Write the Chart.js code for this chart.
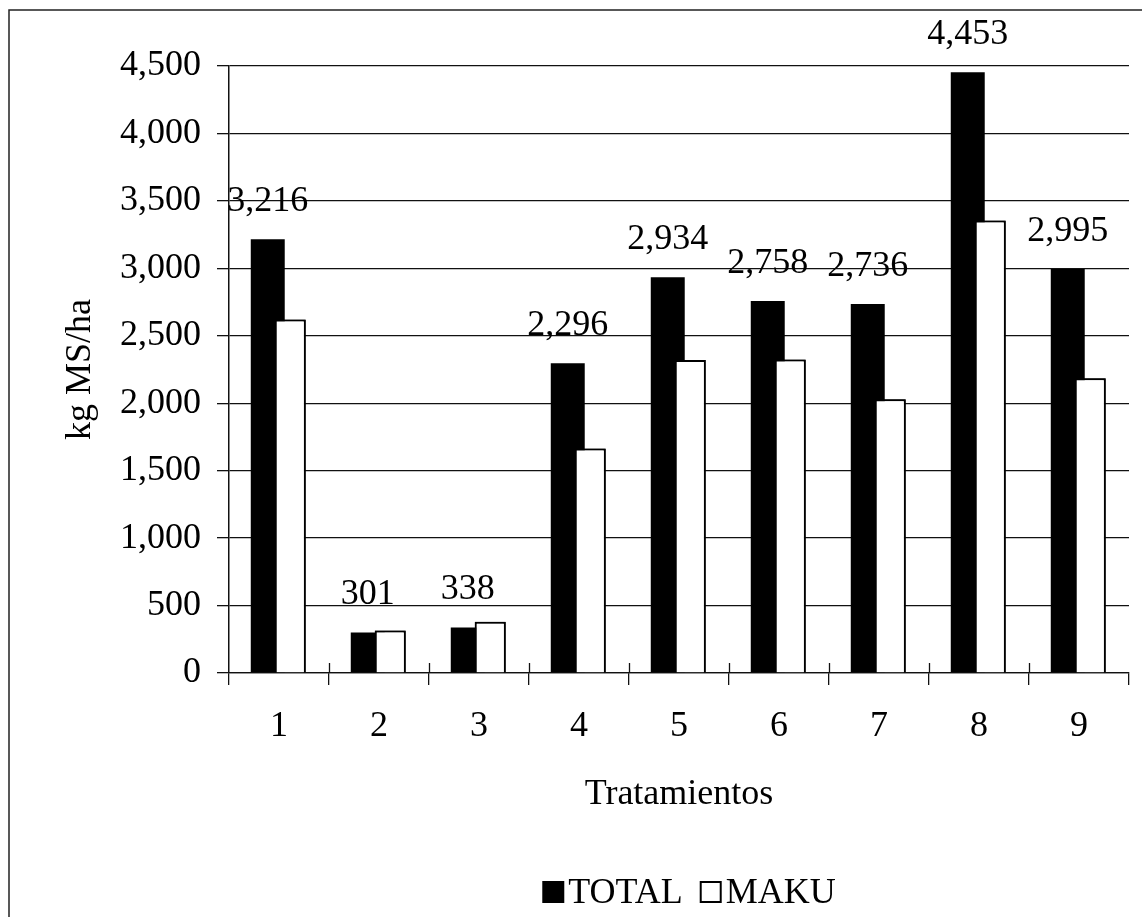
<!DOCTYPE html>
<html>
<head>
<meta charset="utf-8">
<script src="https://cdn.jsdelivr.net/npm/chart.js@4.4.1/dist/chart.umd.min.js"></script>
<style>
  html, body { margin: 0; padding: 0; background: #fff; }
  #wrap { position: relative; width: 1142px; height: 917px; }
</style>
</head>
<body>
<div id="wrap"><canvas id="chart"></canvas></div>
<script>
// Treatments on the x axis
const categories = ['1', '2', '3', '4', '5', '6', '7', '8', '9'];
// Dry-matter yield per treatment (kg MS/ha)
const totalValues = [3216, 301, 338, 2296, 2934, 2758, 2736, 4453, 2995];
const makuValues  = [2620, 315, 380, 1665, 2320, 2325, 2030, 3355, 2185];
// Value axis ticks
const yTicks = [0, 500, 1000, 1500, 2000, 2500, 3000, 3500, 4000, 4500];
const seriesNames = ['TOTAL', 'MAKU'];
const xTitle = 'Tratamientos';
const yTitle = 'kg MS/ha';

const SERIF = "'Liberation Serif', 'Times New Roman', serif";
const FONT_SIZE = 36;
const INK = '#111';
const fmt = v => v.toLocaleString('en-US');

Chart.defaults.font.family = SERIF;
Chart.defaults.color = '#000';

// Outer frame of the figure (left and top rules)
const framePlugin = {
  id: 'frame',
  beforeDraw(chart) {
    const ctx = chart.ctx;
    ctx.save();
    ctx.strokeStyle = '#222';
    ctx.lineWidth = 1.5;
    ctx.beginPath();
    ctx.moveTo(9, chart.height);
    ctx.lineTo(9, 10);
    ctx.lineTo(chart.width, 10);
    ctx.stroke();
    ctx.restore();
  }
};

// Category tick marks crossing the x axis line
const crossTicksPlugin = {
  id: 'crossTicks',
  afterDraw(chart) {
    const xs = chart.scales.x;
    const ctx = chart.ctx;
    const n = xs.ticks.length;
    const step = xs.width / n;
    ctx.save();
    ctx.strokeStyle = INK;
    ctx.lineWidth = 1.3;
    ctx.beginPath();
    for (let i = 1; i < n; i++) {
      const x = Math.round(xs.left + i * step) + 0.5;
      ctx.moveTo(x, xs.top - 10);
      ctx.lineTo(x, xs.top);
    }
    ctx.stroke();
    ctx.restore();
  }
};

// MAKU bars sit in front of TOTAL; values printed above TOTAL bars
const valueLabelsPlugin = {
  id: 'valueLabels',
  afterDatasetsDraw(chart) {
    const makuMeta = chart.getDatasetMeta(1);
    if (!makuMeta.hidden) makuMeta.controller.draw();
    const meta = chart.getDatasetMeta(0);
    if (meta.hidden) return;
    const ctx = chart.ctx;
    ctx.save();
    ctx.font = FONT_SIZE + 'px ' + SERIF;
    ctx.fillStyle = '#000';
    ctx.textAlign = 'center';
    ctx.textBaseline = 'alphabetic';
    meta.data.forEach((bar, i) => {
      ctx.fillText(fmt(totalValues[i]), bar.x, bar.y - 28);
    });
    ctx.restore();
  }
};

// Compact legend row: swatch, then series name, under the plot
const legendRowPlugin = {
  id: 'legendRow',
  afterDraw(chart) {
    const ctx = chart.ctx;
    const ds = chart.data.datasets;
    const box = 22, gapText = 4, gapItem = 17;
    const baseline = 903;
    const centerX = 689;
    ctx.save();
    ctx.font = FONT_SIZE + 'px ' + SERIF;
    const widths = ds.map(d => ctx.measureText(d.label).width);
    let total = 0;
    widths.forEach((w, i) => { total += box + gapText + w + (i < widths.length - 1 ? gapItem : 0); });
    let x = centerX - total / 2;
    ds.forEach((d, i) => {
      const top = baseline - box;
      ctx.fillStyle = d.backgroundColor;
      ctx.fillRect(x, top, box, box);
      if (d.borderWidth) {
        ctx.strokeStyle = d.borderColor;
        ctx.lineWidth = d.borderWidth;
        ctx.strokeRect(x + 1, top + 1, box - 2, box - 2);
      }
      ctx.fillStyle = '#000';
      ctx.textAlign = 'left';
      ctx.textBaseline = 'alphabetic';
      ctx.fillText(d.label, x + box + gapText, baseline);
      x += box + gapText + widths[i] + gapItem;
    });
    ctx.restore();
  }
};

new Chart(document.getElementById('chart'), {
  type: 'bar',
  data: {
    labels: categories,
    datasets: [
      {
        label: seriesNames[0],
        data: totalValues,
        backgroundColor: '#000',
        borderColor: '#000',
        borderWidth: 0,
        categoryPercentage: 0.45,
        barPercentage: 1.51
      },
      {
        label: seriesNames[1],
        data: makuValues,
        backgroundColor: '#fff',
        borderColor: '#000',
        borderWidth: 2,
        categoryPercentage: 0.45,
        barPercentage: 1.38
      }
    ]
  },
  options: {
    responsive: true,
    maintainAspectRatio: false,
    animation: false,
    layout: { padding: { top: 66, right: 13, left: 0, bottom: 55 } },
    plugins: {
      legend: { display: false },
      tooltip: { enabled: false }
    },
    scales: {
      x: {
        offset: true,
        grid: {
          display: true,
          offset: true,
          drawOnChartArea: false,
          drawTicks: true,
          tickLength: 12,
          color: INK,
          lineWidth: 1.3
        },
        border: { display: true, color: INK, width: 1.3 },
        ticks: { font: { size: FONT_SIZE }, color: '#000', padding: 20, maxRotation: 0 },
        title: {
          display: true,
          text: xTitle,
          font: { size: FONT_SIZE },
          color: '#000',
          padding: { top: 0, bottom: 46 }
        },
        afterFit(scale) { scale.height = 189; }
      },
      y: {
        min: 0,
        max: 4500,
        afterBuildTicks(scale) { scale.ticks = yTicks.map(v => ({ value: v })); },
        grid: {
          color: INK,
          lineWidth: 1.3,
          drawTicks: true,
          tickLength: 12
        },
        border: { display: true, color: INK, width: 1.5 },
        ticks: {
          font: { size: FONT_SIZE },
          color: '#000',
          padding: 16,
          callback: v => fmt(v)
        },
        title: {
          display: true,
          text: yTitle,
          font: { size: FONT_SIZE },
          color: '#000',
          padding: { top: 59, bottom: 0 }
        },
        afterFit(scale) { scale.width = 229; }
      }
    }
  },
  plugins: [framePlugin, crossTicksPlugin, valueLabelsPlugin, legendRowPlugin]
});
</script>
</body>
</html>
